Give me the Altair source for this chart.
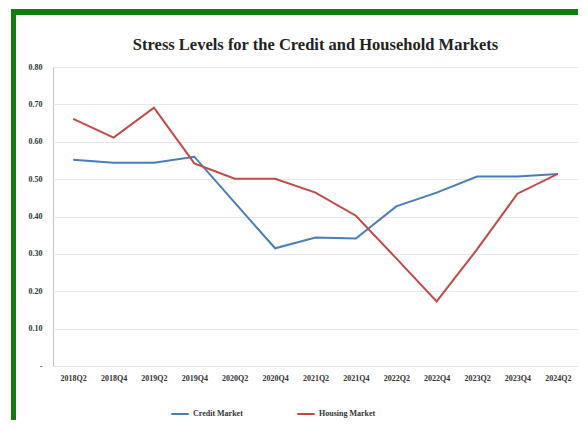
import altair as alt
import pandas as pd

quarters = ["2018Q2", "2018Q4", "2019Q2", "2019Q4", "2020Q2", "2020Q4", "2021Q2",
            "2021Q4", "2022Q2", "2022Q4", "2023Q2", "2023Q4", "2024Q2"]
credit = [0.552, 0.544, 0.544, 0.560, 0.437, 0.315, 0.344, 0.341, 0.427, 0.464, 0.507, 0.507, 0.514]
housing = [0.661, 0.611, 0.691, 0.542, 0.501, 0.501, 0.464, 0.402, 0.288, 0.173, 0.312, 0.461, 0.514]
series_names = ["Credit Market", "Housing Market"]
series_colors = ["#4a7ebb", "#be4b48"]

rows = []
for q, c, h in zip(quarters, credit, housing):
    rows.append({"quarter": q, "series": series_names[0], "value": c})
    rows.append({"quarter": q, "series": series_names[1], "value": h})
df = pd.DataFrame(rows)

FONT = "Liberation Serif"

lines = alt.Chart(df).mark_line(strokeWidth=2).encode(
    x=alt.X("quarter:O", sort=quarters, title=None,
            scale=alt.Scale(type="point", padding=0.5),
            axis=alt.Axis(labelAngle=0, ticks=False, domain=False, grid=False,
                          labelFont=FONT, labelFontWeight="bold", labelFontSize=8,
                          labelColor="#333333", labelPadding=8)),
    y=alt.Y("value:Q", title=None,
            scale=alt.Scale(domain=[0, 0.8], nice=False, zero=True),
            axis=alt.Axis(values=[0, 0.1, 0.2, 0.3, 0.4, 0.5, 0.6, 0.7, 0.8],
                          labelExpr="datum.value == 0 ? '-' : format(datum.value, '.2f')",
                          ticks=False, domain=False, grid=True, gridColor="#e8e8e8",
                          gridWidth=1, labelFont=FONT, labelFontWeight="bold",
                          labelFontSize=8, labelColor="#333333", labelPadding=11)),
    color=alt.Color("series:N", sort=series_names,
                    scale=alt.Scale(domain=series_names, range=series_colors),
                    legend=alt.Legend(title=None, orient="none", direction="horizontal",
                                      legendX=117, legendY=337, symbolType="stroke",
                                      symbolSize=300, symbolStrokeWidth=2,
                                      labelFont=FONT, labelFontWeight="bold",
                                      labelFontSize=8, labelColor="#333333",
                                      labelOffset=3, columnPadding=50)),
)

frame_df = pd.DataFrame({"k": [0]})
left_bar = alt.Chart(frame_df).mark_rect(color="#107c10").encode(
    x=alt.value(-42), x2=alt.value(-37), y=alt.value(-58), y2=alt.value(360))
top_bar = alt.Chart(frame_df).mark_rect(color="#107c10").encode(
    x=alt.value(-42), x2=alt.value(540), y=alt.value(-58), y2=alt.value(-52))

chart = alt.layer(lines, left_bar, top_bar).properties(
    width=525, height=299,
    title=alt.TitleParams("Stress Levels for the Credit and Household Markets",
                          font=FONT, fontSize=16.5, fontWeight="bold", color="#222222",
                          anchor="middle", offset=-44),
    autosize=alt.AutoSizeParams(type="none"),
    padding={"left": 45, "top": 59, "right": 0, "bottom": 54},
    background="white",
).configure_view(stroke="#b9c3cf", strokeWidth=1)

chart.save("out.html", embed_options={"renderer": "svg", "actions": False})
